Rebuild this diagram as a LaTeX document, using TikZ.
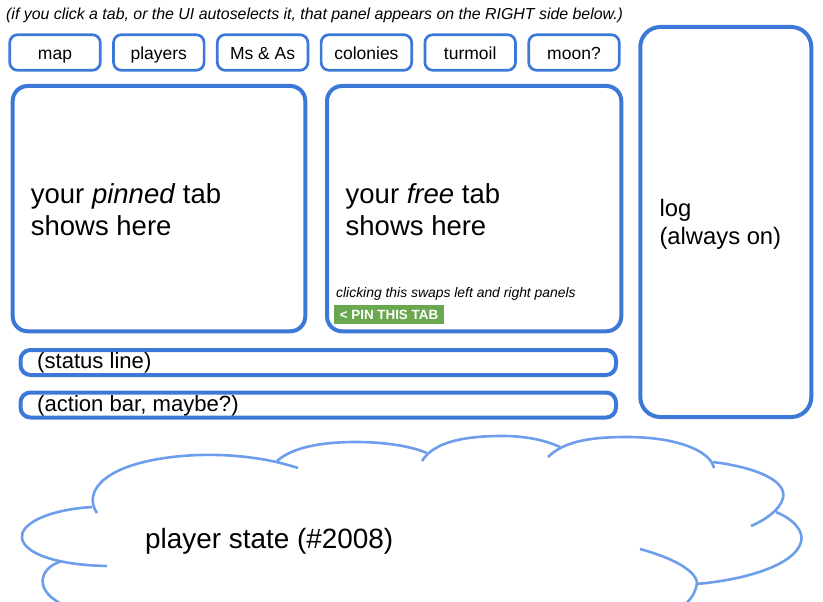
\documentclass[tikz,border=0pt]{standalone}
\usepackage{fontspec}
\setmainfont{Liberation Sans}
\usetikzlibrary{positioning}
\definecolor{boxc}{RGB}{60,120,216}
\definecolor{cloudc}{RGB}{109,158,235}
\definecolor{pinc}{RGB}{106,168,79}
\tikzset{
  tabbox/.style={draw=boxc, line width=2.7pt, rounded corners=8pt, inner sep=0pt,
                 minimum width=90.6pt, minimum height=35.6pt,
                 text height=13.6pt, text depth=0pt, font=\fontsize{17.5}{20}\selectfont},
  panel/.style={draw=boxc, line width=4pt, rounded corners=#1, inner sep=0pt,
                outer sep=0pt, anchor=north west},
  panel/.default=15pt,
  lbl/.style={inner sep=0pt, anchor=base west, align=left},
  cloudline/.style={draw=cloudc, line width=2.6pt},
}

\begin{document}
\begin{tikzpicture}[x=1pt, y=-1pt]
  \useasboundingbox (0,0) rectangle (823,602);
  % hint on top
  \node[lbl, font=\fontsize{15.9}{18}\selectfont\itshape] (hint) at (6,20)
    {(if you click a tab, or the UI autoselects it, that panel appears on the RIGHT side below.)};

  % tab row
  \foreach \t [count=\i from 0] in {map, players, Ms \& As, colonies, turmoil, moon?}
    \node[tabbox] (tab\i) at (55+103.8*\i, 52.5) {\t};

  % the two tab panels
  \node[panel, minimum width=292.6pt, minimum height=245.3pt] (pinned) at (12.7,86) {};
  \node[panel, minimum width=294.3pt, minimum height=245.3pt] (free) at (327,86) {};
  \node[lbl, font=\fontsize{27.5}{32.7}\selectfont] (pinnedtxt) at (30.7,235.7)
    {your \textit{pinned} tab\\shows here};
  \node[lbl, font=\fontsize{27.5}{32.7}\selectfont] (freetxt) at (345.5,235.7)
    {your \textit{free} tab\\shows here};
  \node[lbl, font=\fontsize{13.9}{16}\selectfont\itshape] (swaphint) at (336,297.3)
    {clicking this swaps left and right panels};
  \node[fill=pinc, text=white, anchor=north west, inner sep=0pt, outer sep=0pt,
        minimum width=110pt, minimum height=19pt,
        font=\bfseries\fontsize{13.4}{15}\selectfont] (pinbtn) at (334,305)
    {< PIN THIS TAB};

  % log column
  \node[panel=20pt, minimum width=171pt, minimum height=390pt] (log) at (640.3,27) {};
  \node[lbl, font=\fontsize{23.8}{28}\selectfont] (logtxt) at (659.3,244.5) {log\\(always on)};

  % bars
  \node[panel=10pt, minimum width=595.5pt, minimum height=25pt] (status) at (20.5,350) {};
  \node[panel=10pt, minimum width=595.5pt, minimum height=25pt] (action) at (20.5,392.5) {};
  \node[lbl, font=\fontsize{22.1}{25}\selectfont] (statustxt) at (37,368.5) {(status line)};
  \node[lbl, font=\fontsize{22.1}{25}\selectfont] (actiontxt) at (37,411) {(action bar, maybe?)};

  % player state cloud
  \begin{scope}
    \clip (0,0) rectangle (823,602);
    \draw[cloudline] (97,513) .. controls (86,497) and (95,475) .. (140,463)
      .. controls (185,451) and (250,452) .. (298,468);
    \draw[cloudline] (92,507) .. controls (45,510) and (20,525) .. (22,538)
      .. controls (24,553) and (55,565) .. (107,566);
    \draw[cloudline] (62,561) .. controls (38,568) and (33,592) .. (66,606);
    \draw[cloudline] (277,461) .. controls (295,445) and (330,442) .. (355,442)
      .. controls (385,442) and (410,446) .. (427,453);
    \draw[cloudline] (422,461) .. controls (435,440) and (470,436) .. (503,436)
      .. controls (525,436) and (545,440) .. (560,447);
    \draw[cloudline] (548,457) .. controls (565,440) and (595,437) .. (627,437)
      .. controls (675,437) and (710,450) .. (714,468);
    \draw[cloudline] (713,462) .. controls (760,468) and (787,482) .. (783,498)
      .. controls (780,510) and (765,520) .. (751,526);
    \draw[cloudline] (776,512) .. controls (795,520) and (804,532) .. (801,542)
      .. controls (795,565) and (745,580) .. (696,584);
    \draw[cloudline] (640,549) .. controls (680,560) and (702,575) .. (696,588)
      .. controls (694,595) and (690,600) .. (680,610);
  \end{scope}
  \node[lbl, font=\fontsize{27.9}{31}\selectfont] (statetxt) at (145,548.3) {player state (\#2008)};
\end{tikzpicture}
\end{document}
